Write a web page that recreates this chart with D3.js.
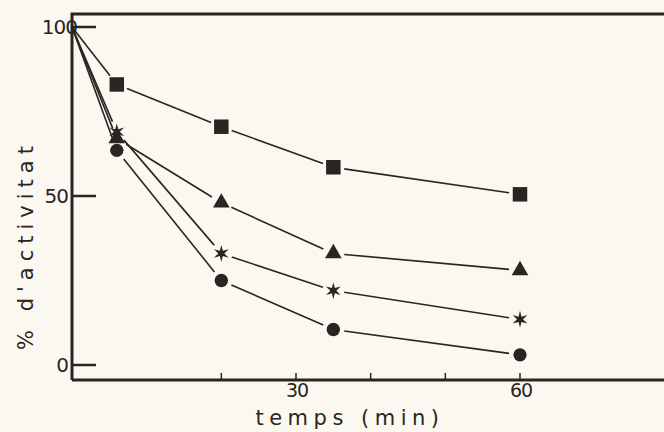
<!DOCTYPE html>
<html>
<head>
<meta charset="utf-8">
<script src="https://cdn.jsdelivr.net/npm/d3@7"></script>
<style>
  body { margin: 0; background: #fbf8f1; }
  svg text { font-family: "DejaVu Sans", "Liberation Sans", sans-serif; fill: #2b2420; }
</style>
</head>
<body>
<div id="chart"></div>
<script>
// data
var temps = [0, 6, 20, 35, 60];
var squares   = [100, 83, 70.5, 58.5, 50.5];
var triangles = [100, 67, 48, 33, 28];
var stars     = [100, 69, 33, 22, 13.5];
var circles   = [100, 63.5, 25, 10.5, 3];
var yTicks = [0, 50, 100];
var xTicks = [20, 30, 40, 50, 60];
var xLabels = [30, 60];

var width = 664, height = 432;
var ink = "#2b2420";

var x = d3.scaleLinear().domain([0, 60]).range([72, 520]);
var y = d3.scaleLinear().domain([0, 100]).range([365, 27]);

var svg = d3.select("#chart").append("svg")
  .attr("width", width)
  .attr("height", height);

svg.append("rect").attr("width", width).attr("height", height).attr("fill", "#fbf8f1");

// frame: left axis, top border, bottom axis
var g = svg.append("g").attr("stroke", ink).attr("stroke-width", 3).attr("fill", "none");
g.append("path").attr("d", "M72,380 L72,14 L664,14");
g.append("path").attr("d", "M72,380 L664,380");

// y ticks point inward
svg.append("g").selectAll("line")
  .data(yTicks).enter().append("line")
  .attr("x1", 72).attr("x2", 96)
  .attr("y1", function(d){ return y(d); })
  .attr("y2", function(d){ return y(d); })
  .attr("stroke", ink).attr("stroke-width", 2.5);

svg.append("g").selectAll("text")
  .data(yTicks).enter().append("text")
  .attr("x", function(d){ return d == 100 ? 77 : 68; })
  .attr("y", function(d){ return y(d); })
  .attr("dy", "0.36em")
  .attr("text-anchor", "end")
  .attr("font-size", 20)
  .attr("letter-spacing", -1)
  .text(function(d){ return d; });

// x ticks, small, upward
svg.append("g").selectAll("line")
  .data(xTicks).enter().append("line")
  .attr("x1", function(d){ return x(d); })
  .attr("x2", function(d){ return x(d); })
  .attr("y1", 380).attr("y2", 373)
  .attr("stroke", ink).attr("stroke-width", 1.5);

svg.append("g").selectAll("text")
  .data(xLabels).enter().append("text")
  .attr("x", function(d){ return x(d) + 1; })
  .attr("y", 397)
  .attr("text-anchor", "middle")
  .attr("font-size", 19)
  .attr("letter-spacing", -1)
  .text(function(d){ return d; });

svg.append("text")
  .attr("x", 350).attr("y", 425)
  .attr("text-anchor", "middle")
  .attr("font-size", 21)
  .attr("letter-spacing", 5.5)
  .text("temps (min)");

svg.append("text")
  .attr("transform", "translate(33,245) rotate(-90)")
  .attr("text-anchor", "middle")
  .attr("font-size", 21)
  .attr("letter-spacing", 6)
  .text("% d'activitat");

var series = [
  {vals: squares, shape: "square"},
  {vals: triangles, shape: "triangle"},
  {vals: stars, shape: "star"},
  {vals: circles, shape: "circle"}
];

// connecting segments, with a small gap before each marker
var gap = 11;
series.forEach(function(s){
  for (var i = 0; i < temps.length - 1; i++) {
    var x0 = x(temps[i]), y0 = y(s.vals[i]), x1 = x(temps[i+1]), y1 = y(s.vals[i+1]);
    var len = Math.sqrt((x1-x0)*(x1-x0) + (y1-y0)*(y1-y0));
    var ux = (x1-x0)/len, uy = (y1-y0)/len;
    var g0 = i == 0 ? 0 : gap;
    svg.append("line")
      .attr("x1", x0 + ux*g0).attr("y1", y0 + uy*g0)
      .attr("x2", x1 - ux*gap).attr("y2", y1 - uy*gap)
      .attr("stroke", ink).attr("stroke-width", 1.6);
  }
});

var symbols = {
  square: d3.symbol().type(d3.symbolSquare).size(210),
  triangle: d3.symbol().type(d3.symbolTriangle).size(120),
  circle: d3.symbol().type(d3.symbolCircle).size(140)
};

// six pointed star
var starPts = d3.range(12).map(function(i){
  var a = i * Math.PI / 6, r = i % 2 ? 3 : 8.5;
  return [r * Math.sin(a), -r * Math.cos(a)];
});
var starPath = d3.line()(starPts) + "Z";

series.forEach(function(s){
  var pts = temps.slice(1).map(function(t, i){ return [x(t), y(s.vals[i+1])]; });
  svg.append("g").selectAll("path").data(pts).enter().append("path")
    .attr("transform", function(d){ return "translate(" + d[0] + "," + d[1] + ")"; })
    .attr("d", s.shape == "star" ? starPath : symbols[s.shape]())
    .attr("fill", ink);
});
</script>
</body>
</html>
